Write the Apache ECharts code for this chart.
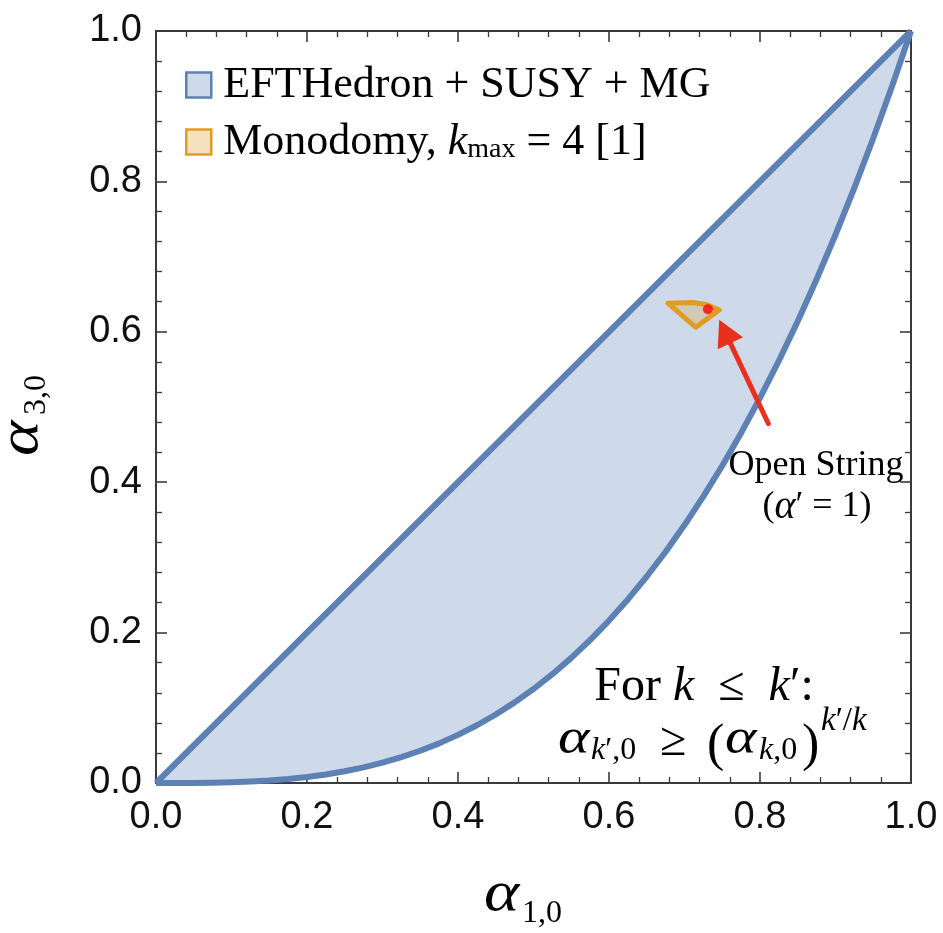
<!DOCTYPE html>
<html><head><meta charset="utf-8">
<script src="https://cdn.jsdelivr.net/npm/echarts@6/dist/echarts.min.js"></script>
<style>html,body{margin:0;padding:0;background:#fff}#c{width:943px;height:933px}</style>
</head><body><div id="c"></div>
<script>
// ---- data ----
const tickValues = [0, 0.2, 0.4, 0.6, 0.8, 1.0];
const upperX = [0, 1];
const upperY = [0, 1];
const lowerX = [0, 0.025, 0.05, 0.075, 0.10, 0.125, 0.15, 0.175, 0.20, 0.225, 0.25, 0.275, 0.30, 0.325, 0.35, 0.375, 0.40, 0.425, 0.45, 0.475, 0.50,
                0.525, 0.55, 0.575, 0.60, 0.625, 0.65, 0.675, 0.70, 0.725, 0.75, 0.775, 0.80, 0.825, 0.85, 0.875, 0.90, 0.925, 0.95, 0.975, 1.0];
const lowerY = [0, 0.0000, 0.0001, 0.0004, 0.001, 0.002, 0.0034, 0.0054, 0.008, 0.0114, 0.0156, 0.0208, 0.027, 0.0343, 0.0429, 0.0527, 0.064, 0.0768, 0.0911, 0.1072, 0.125,
                0.1447, 0.1664, 0.1901, 0.216, 0.2441, 0.2746, 0.3075, 0.343, 0.3811, 0.4219, 0.4655, 0.512, 0.5615, 0.6141, 0.6699, 0.729, 0.7915, 0.8574, 0.9269, 1.0];
const monoX = [0.678, 0.711, 0.730, 0.746, 0.715];
const monoY = [0.638, 0.639, 0.636, 0.629, 0.606];
const openString = [0.731, 0.630];
const arrowTail = [0.811, 0.478];
const arrowHead = [0.746, 0.616];
const legendNames = ['EFTHedron + SUSY + MG', 'Monodomy'];

const BLUE = '#5E81B5', BLUE_FILL = '#CED9E9', ORANGE = '#E19C24', AX = '#3a3a3a';
const SERIF = 'Liberation Serif';

const upperPts = upperX.map((x, i) => [x, upperY[i]]);
const lowerPts = lowerX.map((x, i) => [x, lowerY[i]]);
const regionPts = upperPts.concat(lowerPts.slice().reverse());
const monoPts = monoX.map((x, i) => [x, monoY[i]]);

const chart = echarts.init(document.getElementById('c'));

function axisBase(pos, showLabel, isX) {
  return {
    type: 'value', min: 0, max: 1, interval: 0.2, position: pos,
    axisLine: { show: true, onZero: false, lineStyle: { color: AX, width: 2 } },
    axisTick: { show: true, inside: true, length: 11, lineStyle: { color: AX, width: 1.6 } },
    minorTick: { show: true, splitNumber: 5, length: 6, lineStyle: { color: AX, width: 1.3 } },
    splitLine: { show: false }, minorSplitLine: { show: false },
    axisLabel: showLabel ? { show: true, fontSize: 38, fontFamily: 'Liberation Sans', color: '#111', margin: isX ? 16 : 14,
      formatter: v => tickValues.some(t => Math.abs(t - v) < 1e-9) ? v.toFixed(1) : '' } : { show: false }
  };
}

function txt(text, x, y, size, italic, align, extra) {
  return Object.assign({ type: 'text', x: x, y: y, style: { text: text, fontFamily: SERIF, fontSize: size, fontStyle: italic ? 'italic' : 'normal', fill: '#000', align: align || 'left', verticalAlign: 'middle' } }, extra || {});
}
function alpha(x, y, size) {
  return txt('α', x, y, size, true, 'left', { scaleX: 1.2 });
}
function richTxt(text, x, y, size, align) {
  return { type: 'text', x: x, y: y, style: { text: text, align: align || 'left', verticalAlign: 'middle',
    rich: { n: { fontFamily: SERIF, fontSize: size }, i: { fontFamily: SERIF, fontSize: size, fontStyle: 'italic' } } } };
}

const graphics = [
  // x-axis title
  alpha(484, 895, 56),
  txt('1,0', 522, 914, 32, false),
  // y-axis title (rotated)
  { type: 'group', x: 0, y: 0, rotation: Math.PI / 2, children: [
      alpha(-456, 22, 56),
      txt('3,0', -415, 37, 32, false)
  ] },
  // Open String label
  txt('Open String', 816, 466, 36, false, 'center'),
  { type: 'text', x: 817, y: 507, style: { text: '{n|(}{a|α}{n|′ = 1)}', align: 'center', verticalAlign: 'middle',
      rich: { n: { fontFamily: SERIF, fontSize: 36 }, a: { fontFamily: SERIF, fontSize: 40, fontStyle: 'italic' } } } },
  // For k <= k'
  richTxt('{n|For }{i|k}{n|  ≤  }{i|k}{n|′:}', 704, 687, 48, 'center'),
  // inequality
  alpha(558, 740, 50),
  richTxt('{i|k}{n|′,0}', 591, 751, 32),
  txt('≥', 660, 742, 48, false),
  txt('(', 707, 746, 52, false),
  alpha(725, 740, 50),
  richTxt('{i|k}{n|,0}', 759, 751, 32),
  txt(')', 802, 746, 52, false),
  richTxt('{i|k}{n|′/}{i|k}', 821, 721, 33)
];

const option = {
  animation: false,
  backgroundColor: '#fff',
  grid: { left: 156, top: 31, width: 755, height: 752, show: false },
  xAxis: [axisBase('bottom', true, true), axisBase('top', false)],
  yAxis: [axisBase('left', true, false), axisBase('right', false)],
  legend: {
    orient: 'vertical', left: 185, top: 63, padding: 0, itemWidth: 25, itemHeight: 25, itemGap: 13, icon: 'rect',
    selectedMode: false,
    data: [
      { name: legendNames[0], itemStyle: { color: BLUE_FILL, borderColor: BLUE, borderWidth: 2.5 } },
      { name: legendNames[1], itemStyle: { color: '#F6E1BE', borderColor: ORANGE, borderWidth: 2.5 } }
    ],
    formatter: n => n === 'Monodomy' ? '{t|Monodomy, }{i|k}{s|max}{t| = 4 [1]}' : '{t|' + n + '}',
    textStyle: { fontFamily: SERIF, fontSize: 44, color: '#000', padding: [0, 0, 0, 7],
      rich: {
        t: { fontFamily: SERIF, fontSize: 44, lineHeight: 50, color: '#000' },
        i: { fontFamily: SERIF, fontSize: 44, lineHeight: 50, fontStyle: 'italic', color: '#000' },
        s: { fontFamily: SERIF, fontSize: 28, lineHeight: 34, color: '#000', padding: [16, 0, 0, 0] }
      } }
  },
  series: [
    { name: legendNames[0], type: 'custom', data: [[0, 0]], z: 1, silent: true,
      itemStyle: { color: BLUE_FILL },
      renderItem: (params, api) => ({ type: 'polygon', shape: { points: regionPts.map(p => api.coord(p)) }, style: { fill: BLUE_FILL } }) },
    { type: 'line', data: upperPts, showSymbol: false, lineStyle: { color: BLUE, width: 6 }, z: 3, silent: true },
    { type: 'line', data: lowerPts, showSymbol: false, smooth: false, lineStyle: { color: BLUE, width: 6, join: 'round' }, z: 3, silent: true },
    { name: legendNames[1], type: 'custom', data: [[0, 0]], z: 4, silent: true, itemStyle: { color: ORANGE },
      renderItem: (params, api) => ({ type: 'polygon', shape: { points: monoPts.map(p => api.coord(p)) },
        style: { fill: 'rgba(225,156,36,0.25)', stroke: ORANGE, lineWidth: 5, lineJoin: 'round' } }) },
    { type: 'scatter', data: [openString], symbolSize: 10, itemStyle: { color: '#FF0000' }, z: 6, silent: true },
    { type: 'custom', data: [[arrowTail[0], arrowTail[1], arrowHead[0], arrowHead[1]]], z: 5, silent: true,
      renderItem: (params, api) => {
        const a = api.coord([api.value(0), api.value(1)]);
        const b = api.coord([api.value(2), api.value(3)]);
        const dx = b[0] - a[0], dy = b[1] - a[1], L = Math.hypot(dx, dy);
        const ux = dx / L, uy = dy / L, hl = 26, hw = 14;
        const base = [b[0] - ux * hl, b[1] - uy * hl];
        return { type: 'group', children: [
          { type: 'line', shape: { x1: a[0], y1: a[1], x2: base[0] + ux * 4, y2: base[1] + uy * 4 }, style: { stroke: '#E8301C', lineWidth: 5, lineCap: 'round' } },
          { type: 'polygon', shape: { points: [b, [base[0] - uy * hw, base[1] + ux * hw], [base[0] + uy * hw, base[1] - ux * hw]] }, style: { fill: '#E8301C' } }
        ] };
      } }
  ],
  graphic: graphics
};
chart.setOption(option);
</script></body></html>
